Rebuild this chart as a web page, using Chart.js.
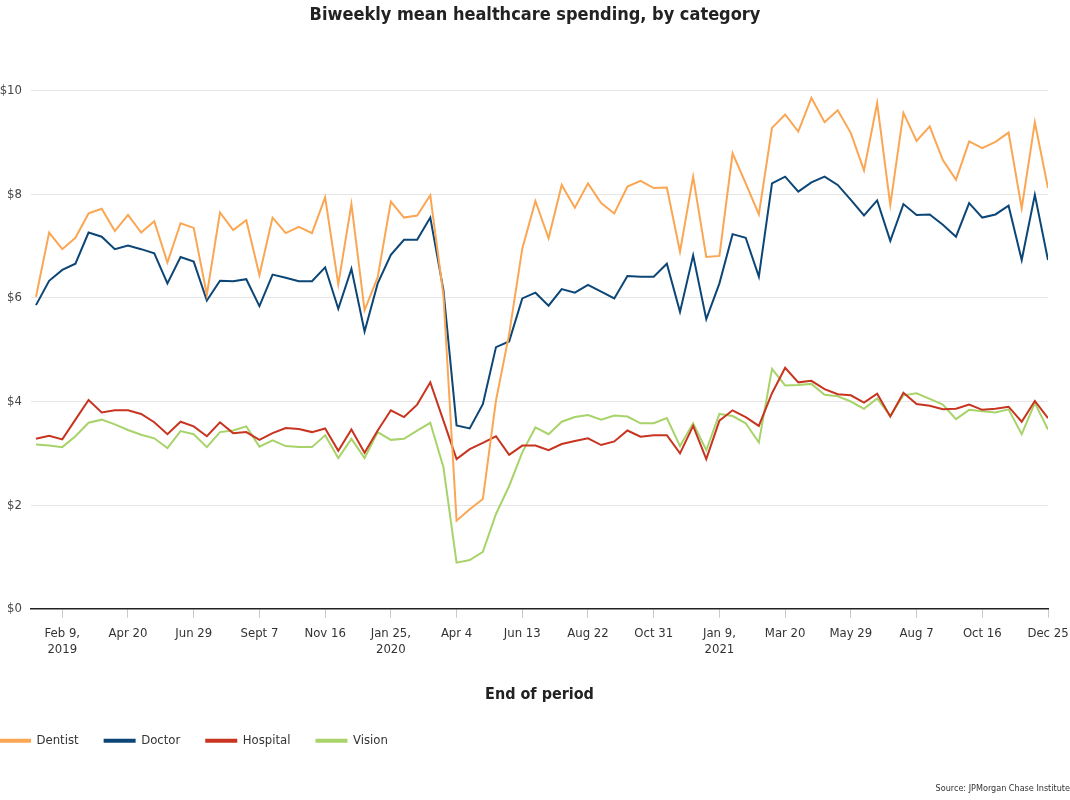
<!DOCTYPE html>
<html>
<head>
<meta charset="utf-8">
<script src="https://cdn.jsdelivr.net/npm/chart.js@4.4.1/dist/chart.umd.min.js"></script>
<style>
  html, body { margin: 0; padding: 0; background: #fff; }
  #wrap { width: 1070px; height: 800px; }
</style>
</head>
<body>
<div id="wrap"><canvas id="cnv" width="1070" height="800"></canvas></div>
<script>
// biweekly periods, first one ends Jan 12, 2019
const firstPeriod = new Date(2019, 0, 12)
const periods = []
for (let i = 0; i < 78; i++) {
  const d = new Date(firstPeriod)
  d.setDate(d.getDate() + 14 * i)
  periods.push(d.toDateString())
}

// labelled ticks sit on every 5th period starting at index 2 (Feb 9, 2019)
const tickIndex = [2, 7, 12, 17, 22, 27, 32, 37, 42, 47, 52, 57, 62, 67, 72, 77]
const tickLabels = [
  ['Feb 9,', '2019'], 'Apr 20', 'Jun 29', 'Sept 7', 'Nov 16', ['Jan 25,', '2020'],
  'Apr 4', 'Jun 13', 'Aug 22', 'Oct 31', ['Jan 9,', '2021'], 'Mar 20',
  'May 29', 'Aug 7', 'Oct 16', 'Dec 25'
]

const dentist = [
  6.02, 7.26, 6.94, 7.16, 7.63, 7.72, 7.29, 7.60, 7.26, 7.48,
  6.68, 7.44, 7.35, 6.06, 7.65, 7.31, 7.50, 6.44, 7.55, 7.25,
  7.37, 7.25, 7.94, 6.26, 7.81, 5.76, 6.40, 7.86, 7.55, 7.59,
  7.98, 6.05, 1.70, 1.92, 2.12, 4.02, 5.30, 6.95, 7.87, 7.15,
  8.18, 7.74, 8.21, 7.83, 7.63, 8.15, 8.26, 8.12, 8.13, 6.89,
  8.34, 6.79, 6.81, 8.79, 8.21, 7.61, 9.28, 9.54, 9.21, 9.86,
  9.39, 9.62, 9.18, 8.46, 9.76, 7.79, 9.57, 9.03, 9.31, 8.66,
  8.28, 9.02, 8.89, 9.01, 9.19, 7.73, 9.39, 8.12
]
const doctor = [
  5.86, 6.33, 6.54, 6.66, 7.26, 7.18, 6.94, 7.01, 6.94, 6.86,
  6.28, 6.79, 6.70, 5.95, 6.33, 6.32, 6.36, 5.84, 6.45, 6.39,
  6.32, 6.32, 6.59, 5.79, 6.56, 5.35, 6.28, 6.83, 7.12, 7.12,
  7.55, 6.15, 3.54, 3.48, 3.95, 5.05, 5.16, 5.99, 6.10, 5.85,
  6.17, 6.10, 6.25, 6.12, 5.99, 6.42, 6.41, 6.41, 6.66, 5.73,
  6.82, 5.59, 6.28, 7.23, 7.16, 6.41, 8.21, 8.34, 8.05, 8.23,
  8.34, 8.18, 7.89, 7.59, 7.88, 7.10, 7.81, 7.60, 7.61, 7.41,
  7.18, 7.83, 7.55, 7.61, 7.78, 6.73, 7.99, 6.73
]
const hospital = [
  3.28, 3.34, 3.27, 3.65, 4.03, 3.79, 3.83, 3.83, 3.76, 3.60,
  3.37, 3.61, 3.52, 3.33, 3.60, 3.39, 3.41, 3.26, 3.39, 3.49,
  3.47, 3.41, 3.48, 3.05, 3.46, 3.01, 3.44, 3.83, 3.70, 3.94,
  4.37, 3.63, 2.89, 3.08, 3.20, 3.33, 2.97, 3.15, 3.15, 3.06,
  3.18, 3.24, 3.29, 3.16, 3.23, 3.44, 3.32, 3.35, 3.35, 3.00,
  3.53, 2.89, 3.63, 3.83, 3.70, 3.53, 4.16, 4.65, 4.37, 4.40,
  4.24, 4.14, 4.12, 3.98, 4.15, 3.71, 4.17, 3.95, 3.92, 3.85,
  3.86, 3.94, 3.84, 3.86, 3.90, 3.61, 4.01, 3.68
]
const vision = [
  3.17, 3.15, 3.12, 3.33, 3.59, 3.65, 3.56, 3.45, 3.36, 3.29,
  3.10, 3.43, 3.37, 3.12, 3.41, 3.44, 3.52, 3.13, 3.25, 3.14,
  3.12, 3.12, 3.35, 2.91, 3.28, 2.91, 3.41, 3.26, 3.28, 3.44,
  3.59, 2.73, 0.89, 0.94, 1.10, 1.83, 2.37, 3.02, 3.50, 3.37,
  3.61, 3.70, 3.74, 3.65, 3.73, 3.71, 3.58, 3.58, 3.68, 3.14,
  3.58, 3.06, 3.76, 3.72, 3.58, 3.21, 4.63, 4.31, 4.32, 4.34,
  4.13, 4.10, 4.00, 3.86, 4.06, 3.72, 4.12, 4.16, 4.05, 3.94,
  3.66, 3.84, 3.81, 3.79, 3.85, 3.37, 3.97, 3.46
]

const FONT = "'Liberation Sans Narrow', 'DejaVu Sans Condensed', 'Roboto', sans-serif"

const series = [
  { label: 'Dentist', values: dentist, color: '#FBA653' },
  { label: 'Doctor', values: doctor, color: '#0C4677' },
  { label: 'Hospital', values: hospital, color: '#C7341F' },
  { label: 'Vision', values: vision, color: '#A8D36A' }
]

const datasets = series.map(s => ({
  label: s.label,
  data: s.values.map((v, i) => ({ x: i, y: v })),
  borderColor: s.color,
  backgroundColor: s.color,
  borderWidth: 2,
  pointRadius: 0,
  tension: 0
}))

// legend in the original hugs the left edge of the page
const legendShift = {
  id: 'legendShift',
  afterLayout (chart) {
    const shift = chart.options.plugins.legend.labels.padding
    chart.legend.left -= shift
    chart.legend.right -= shift
  }
}

new Chart(document.getElementById('cnv'), {
  type: 'line',
  data: { datasets },
  plugins: [legendShift],
  options: {
    responsive: false,
    animation: false,
    layout: { padding: { left: 0, right: 0, bottom: 6 } },
    plugins: {
      tooltip: { enabled: false },
      title: {
        display: true,
        text: 'Biweekly mean healthcare spending, by category',
        color: '#222',
        font: { family: FONT, size: 18, weight: 'bold' },
        padding: { top: 5, bottom: 64 }
      },
      subtitle: {
        display: true,
        position: 'bottom',
        align: 'end',
        text: 'Source: JPMorgan Chase Institute',
        color: '#333',
        font: { family: FONT, size: 9 },
        padding: { top: 26, bottom: 0 }
      },
      legend: {
        position: 'bottom',
        align: 'start',
        labels: {
          boxWidth: 30,
          boxHeight: 2,
          padding: 26,
          color: '#333',
          font: { family: FONT, size: 13 }
        }
      }
    },
    scales: {
      x: {
        type: 'linear',
        min: -0.38,
        max: 77,
        afterBuildTicks: axis => {
          axis.ticks = tickIndex.map(v => ({ value: v }))
        },
        afterFit: axis => {
          axis.paddingLeft = 0
          axis.paddingRight = 22
        },
        ticks: {
          autoSkip: false,
          maxRotation: 0,
          color: '#333',
          padding: 8,
          font: { family: FONT, size: 13 },
          callback: v => tickLabels[tickIndex.indexOf(v)]
        },
        grid: {
          drawOnChartArea: false,
          drawTicks: true,
          tickLength: 9,
          color: '#c8c8c8'
        },
        border: { display: true, color: '#222', width: 1.5 },
        title: {
          display: true,
          text: 'End of period',
          color: '#222',
          font: { family: FONT, size: 16, weight: 'bold' },
          padding: { top: 20, bottom: 4 }
        }
      },
      y: {
        min: 0,
        max: 10,
        afterFit: axis => {
          axis.width = 31
        },
        ticks: {
          stepSize: 2,
          color: '#444',
          padding: 9,
          font: { family: FONT, size: 13 },
          callback: v => '$' + v
        },
        grid: { color: '#e6e6e6', drawTicks: false },
        border: { display: false }
      }
    }
  }
})
</script>
</body>
</html>
